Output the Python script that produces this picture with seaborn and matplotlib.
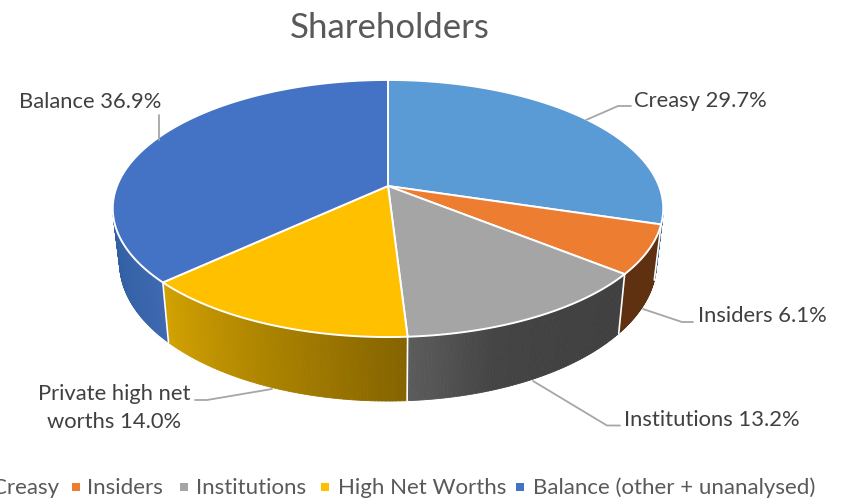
import numpy as np
import seaborn as sns
import matplotlib.pyplot as plt
from matplotlib.collections import PolyCollection

names = ['Creasy', 'Insiders', 'Institutions', 'High Net Worths', 'Balance (other + unanalysed)']
shares = [29.7, 6.1, 13.2, 14.0, 36.9]
top_colors = ['#5B9BD5', '#ED7D31', '#A5A5A5', '#FFC000', '#4472C4']
wall_colors = [['#2E6594', '#2E6594'],
               ['#5F3111', '#5F3111'],
               ['#5C5C5C', '#444444', '#414141', '#404040'],
               ['#D3A200', '#856400'],
               ['#2F5C9E', '#3D68B0']]
slice_labels = ['Creasy 29.7%', 'Insiders 6.1%', 'Institutions 13.2%',
                'Private high net\nworths 14.0%', 'Balance 36.9%']

sns.set_theme(style='white')
plt.rcParams['font.family'] = ['Lato', 'DejaVu Sans']
text_color = '#595959'
label_color = '#404040'

fig = plt.figure(figsize=(8.42, 4.98), dpi=100)
ax = fig.add_axes([0, 0, 1, 1])
ax.set_xlim(0, 842)
ax.set_ylim(498, 0)
ax.axis('off')

# camera looking down on the disc: far side shrinks
cx, cy = 388, 186
rx, ry, k = 271, 124.6, 0.175
depth, shrink = 52.8, 0.975
# walls only show between these two angles (silhouette of the disc)
wall_from, wall_to = np.radians(99.9), np.radians(260.1)


def top_rim(a):
    w = 1 + k * np.cos(a)
    return cx + rx * np.sin(a) / w, cy - ry * np.cos(a) / w


def bottom_rim(a):
    w = 1 + k * np.cos(a)
    x, y = top_rim(a)
    return cx + (x - cx) * shrink, y + depth / w


edges = np.radians(np.cumsum([0] + shares) / sum(shares) * 360)

# side walls first, top faces go over them
for i in range(len(shares)):
    a = np.linspace(max(edges[i], wall_from), min(edges[i + 1], wall_to), 80)
    x1, y1 = top_rim(a)
    x2, y2 = bottom_rim(a)
    order = np.argsort(x1)
    x1, y1, x2, y2 = x1[order], y1[order], x2[order], y2[order]
    quads = [[(x1[j], y1[j]), (x1[j + 1], y1[j + 1]), (x2[j + 1], y2[j + 1]), (x2[j], y2[j])]
             for j in range(len(a) - 1)]
    cols = sns.blend_palette(wall_colors[i], len(quads))
    ax.add_collection(PolyCollection(quads, facecolors=cols, edgecolors=cols, linewidths=0.6))

for i in range(len(shares)):
    a = np.linspace(edges[i], edges[i + 1], 120)
    x, y = top_rim(a)
    ax.fill(np.r_[cx, x], np.r_[cy, y], color=top_colors[i], ec='white', lw=1.4, joinstyle='round')
    # white seam down the front walls
    if np.cos(edges[i]) < 0:
        xa, ya = top_rim(edges[i])
        xb, yb = bottom_rim(edges[i])
        ax.plot([xa, xb], [ya, yb], color='white', lw=1.2)

# leader lines
leaders = [([586, 618, 631], [120, 106, 106]),
           ([643, 682, 693], [309, 322, 322]),
           ([533, 607, 620], [381, 425.5, 425.5]),
           ([272, 207, 195], [389, 400, 400]),
           ([158.5, 158.5], [115, 140])]
for lx, ly in leaders:
    ax.plot(lx, ly, color='#A6A6A6', lw=1.3)

ax.text(389.5, 28, 'Shareholders', color=text_color, fontsize=25, ha='center', va='center')
ax.text(634, 101, slice_labels[0], color=label_color, fontsize=15.8, va='center')
ax.text(698, 316, slice_labels[1], color=label_color, fontsize=15.8, va='center')
ax.text(624, 420, slice_labels[2], color=label_color, fontsize=15.8, va='center')
ax.text(114, 408, slice_labels[3], color=label_color, fontsize=15.8, ha='center', va='center', linespacing=1.45)
ax.text(19, 102, slice_labels[4], color=label_color, fontsize=15.8, va='center')

# legend along the bottom, first entry runs off the left edge
legend_x = [-20, 76, 184, 325, 520]
legend_text_x = [-8, 87, 196, 338, 533]
sns.scatterplot(x=legend_x, y=[487] * 5, hue=names, palette=top_colors, marker='s', s=40,
                linewidth=0, legend=False, ax=ax, clip_on=True)
for n, tx in zip(names, legend_text_x):
    ax.text(tx, 488, n, color=text_color, fontsize=16, va='center')

fig.savefig('out.png', dpi=100)
